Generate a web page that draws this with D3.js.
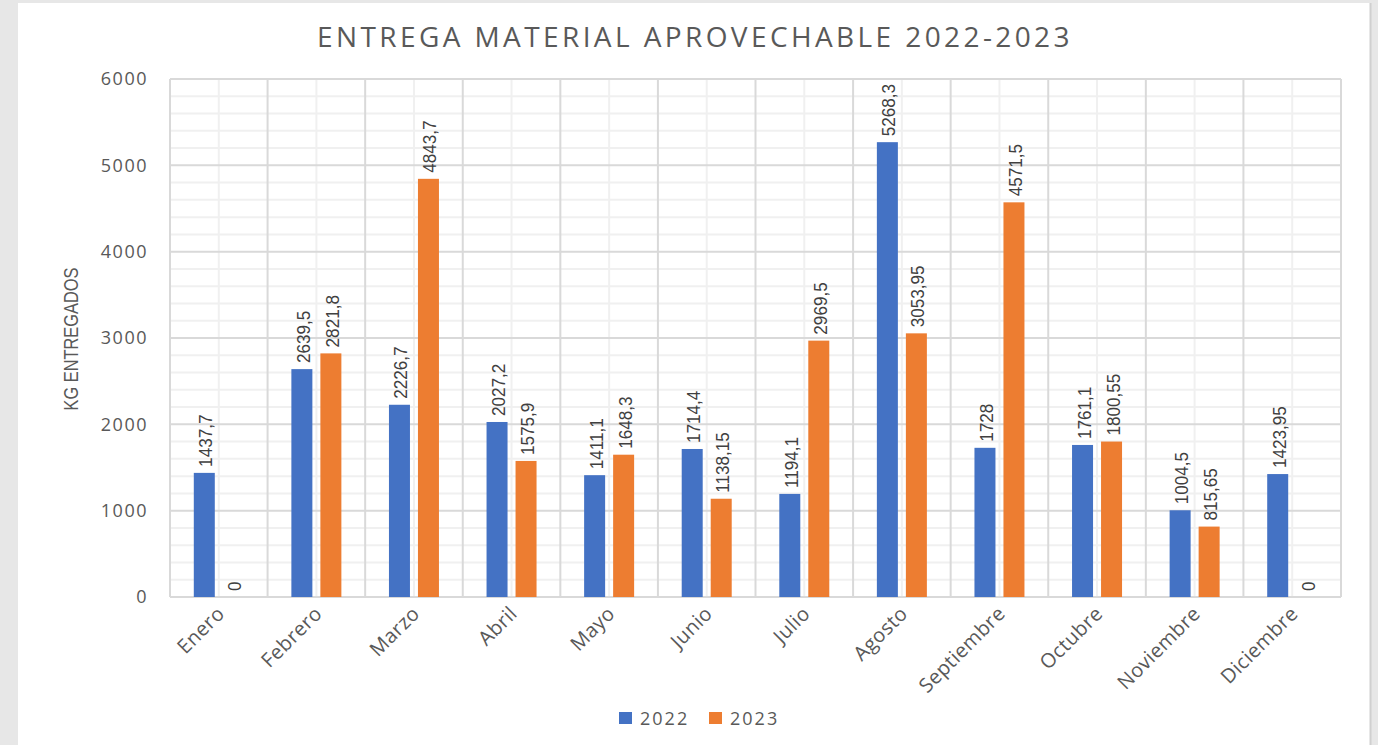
<!DOCTYPE html>
<html>
<head>
<meta charset="utf-8">
<title>Entrega material aprovechable</title>
<style>
  html, body { margin: 0; padding: 0; background: #e7e7e7; }
  svg { display: block; }
  .tick text { font-family: "Open Sans", sans-serif; }
</style>
</head>
<body>
<div id="vis"></div>
<script src="https://cdnjs.cloudflare.com/ajax/libs/d3/7.8.5/d3.min.js"></script>
<script>
var months = ["Enero", "Febrero", "Marzo", "Abril", "Mayo", "Junio", "Julio",
              "Agosto", "Septiembre", "Octubre", "Noviembre", "Diciembre"];
var series = ["2022", "2023"];
var values2022 = [1437.7, 2639.5, 2226.7, 2027.2, 1411.1, 1714.4, 1194.1, 5268.3, 1728, 1761.1, 1004.5, 1423.95];
var values2023 = [0, 2821.8, 4843.7, 1575.9, 1648.3, 1138.15, 2969.5, 3053.95, 4571.5, 1800.55, 815.65, 0];
var yTicks = [0, 1000, 2000, 3000, 4000, 5000, 6000];
var colors = ["#4472c4", "#ed7d31"];

var W = 1378, H = 745;
var margin = {left: 170, right: 1341, top: 79, bottom: 597};

var svg = d3.select("#vis").append("svg")
    .attr("width", W)
    .attr("height", H);

// white chart panel
svg.append("rect")
    .attr("x", 18).attr("y", 3)
    .attr("width", 1352).attr("height", H - 3)
    .attr("fill", "#ffffff");
svg.append("line")
    .attr("x1", 1370.5).attr("x2", 1370.5).attr("y1", 3).attr("y2", H)
    .attr("stroke", "#d0d0d0").attr("stroke-width", 2);

var rows = months.map(function(m, i) {
  return {month: m, metrics: [
    {name: series[0], value: values2022[i]},
    {name: series[1], value: values2023[i]}
  ]};
});

var x = d3.scaleBand().domain(months).range([margin.left, margin.right]).padding(0);
var x1 = d3.scaleBand().domain(series)
    .range([x.bandwidth() / 2 - 25, x.bandwidth() / 2 + 25])
    .paddingInner(8 / 29).paddingOuter(0);
var y = d3.scaleLinear().domain([0, 6000]).range([margin.bottom, margin.top]);

var color = d3.scaleOrdinal().domain(series).range(colors);

// minor horizontal grid
var grid = svg.append("g");
grid.selectAll(".minor-h")
    .data(d3.range(0, 6001, 200).filter(function(v) { return v % 1000 !== 0; }))
  .enter().append("line")
    .attr("x1", margin.left).attr("x2", margin.right)
    .attr("y1", function(d) { return y(d); }).attr("y2", function(d) { return y(d); })
    .attr("stroke", "#f0f0f0").attr("stroke-width", 2);
// minor vertical grid (category centres)
grid.selectAll(".minor-v")
    .data(months)
  .enter().append("line")
    .attr("x1", function(d) { return x(d) + x.bandwidth() / 2; })
    .attr("x2", function(d) { return x(d) + x.bandwidth() / 2; })
    .attr("y1", margin.top).attr("y2", margin.bottom)
    .attr("stroke", "#f0f0f0").attr("stroke-width", 2);
// major horizontal grid
grid.selectAll(".major-h")
    .data(yTicks)
  .enter().append("line")
    .attr("x1", margin.left).attr("x2", margin.right)
    .attr("y1", function(d) { return y(d); }).attr("y2", function(d) { return y(d); })
    .attr("stroke", "#d9d9d9").attr("stroke-width", 2);
// major vertical grid (category boundaries)
grid.selectAll(".major-v")
    .data(months.concat(["__end"]))
  .enter().append("line")
    .attr("x1", function(d) { return d === "__end" ? margin.right : x(d); })
    .attr("x2", function(d) { return d === "__end" ? margin.right : x(d); })
    .attr("y1", margin.top).attr("y2", margin.bottom)
    .attr("stroke", "#d9d9d9").attr("stroke-width", 2);

// y axis labels
var yAxis = svg.append("g")
    .attr("transform", "translate(" + (margin.left - 22) + ",0)")
    .call(d3.axisLeft(y).tickValues(yTicks).tickFormat(d3.format("d")).tickSize(0).tickPadding(0));
yAxis.select(".domain").remove();
yAxis.selectAll("text")
    .attr("fill", "#595959")
    .style("font-size", "18px")
    .style("letter-spacing", "1.5px");

// x axis labels
var xAxis = svg.append("g")
    .attr("transform", "translate(0," + (margin.bottom + 8) + ")")
    .call(d3.axisBottom(x).tickSize(0).tickPadding(0));
xAxis.select(".domain").remove();
xAxis.selectAll("text")
    .attr("fill", "#595959")
    .style("font-size", "20px")
    .style("letter-spacing", "0.4px")
    .style("text-anchor", "end")
    .attr("dy", "0.7em")
    .attr("transform", "translate(-3,0) rotate(-45)");

// bars
var group = svg.selectAll(".month")
    .data(rows)
  .enter().append("g")
    .attr("class", "month")
    .attr("transform", function(d) { return "translate(" + x(d.month) + ",0)"; });

group.selectAll("rect")
    .data(function(d) { return d.metrics; })
  .enter().append("rect")
    .attr("x", function(d) { return x1(d.name); })
    .attr("width", x1.bandwidth())
    .attr("y", function(d) { return y(d.value); })
    .attr("height", function(d) { return margin.bottom - y(d.value); })
    .attr("fill", function(d) { return color(d.name); });

// data labels
group.selectAll(".lbl")
    .data(function(d) { return d.metrics; })
  .enter().append("text")
    .attr("class", "lbl")
    .attr("transform", function(d) {
      var cx = x1(d.name) + x1.bandwidth() / 2 + 8;
      return "translate(" + cx + "," + (y(d.value) - 6) + ") rotate(-90) scale(0.95,1)";
    })
    .attr("fill", "#404040")
    .style("font-family", "'Liberation Sans', Arial, sans-serif")
    .style("font-size", "18px")
    .text(function(d) { return String(d.value).replace(".", ","); });

// title
svg.append("text")
    .attr("x", 695).attr("y", 47)
    .attr("text-anchor", "middle")
    .attr("fill", "#595959")
    .style("font-family", "'Open Sans', sans-serif")
    .style("font-size", "28px")
    .style("letter-spacing", "3.4px")
    .text("ENTREGA MATERIAL APROVECHABLE 2022-2023");

// y title
svg.append("text")
    .attr("transform", "translate(78,339) rotate(-90) scale(0.82,1)")
    .attr("text-anchor", "middle")
    .attr("fill", "#595959")
    .style("font-family", "'Liberation Sans', Arial, sans-serif")
    .style("font-size", "20px")
    .text("KG ENTREGADOS");

// legend
var legend = svg.append("g").attr("transform", "translate(619,712)");
var item = legend.selectAll("g")
    .data(series)
  .enter().append("g")
    .attr("transform", function(d, i) { return "translate(" + (i * 90) + ",0)"; });
item.append("rect")
    .attr("width", 13).attr("height", 12)
    .attr("fill", function(d) { return color(d); });
item.append("text")
    .attr("x", 21).attr("y", 13)
    .attr("fill", "#595959")
    .style("font-family", "'Open Sans', sans-serif")
    .style("font-size", "18px")
    .style("letter-spacing", "2px")
    .text(function(d) { return d; });
</script>
</body>
</html>
